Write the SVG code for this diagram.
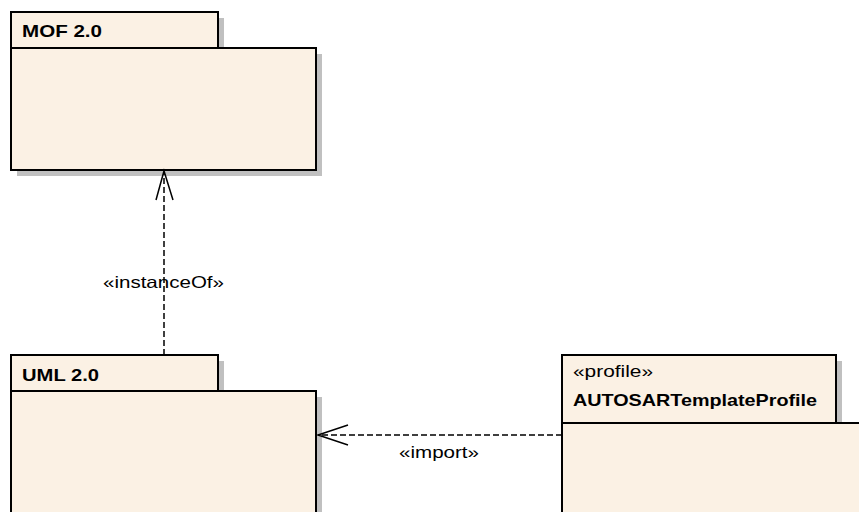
<svg xmlns="http://www.w3.org/2000/svg" width="859" height="512" viewBox="0 0 859 512">
<style>
.sh{fill:#c0c0c0;stroke:none}
.pk{fill:#fbf1e4;stroke:#000;stroke-width:2}
.t{font-family:"Liberation Sans",Arial,sans-serif;font-size:16.5px;fill:#000}
.b{font-weight:bold}
.dash{fill:none;stroke:#000;stroke-width:1.5;stroke-dasharray:6,3}
.head{fill:none;stroke:#000;stroke-width:1.5}
</style>
<rect width="859" height="512" fill="#fff"/>
<g id="mof">
<rect class="sh" x="17" y="18" width="207" height="36"/>
<rect class="sh" x="17" y="54" width="305" height="122"/>
<rect class="pk" x="11" y="12" width="207" height="36"/>
<rect class="pk" x="11" y="48" width="305" height="122"/>
<text class="t b" x="22" y="37" textLength="80" lengthAdjust="spacingAndGlyphs">MOF 2.0</text>
</g>
<g id="uml">
<rect class="sh" x="17" y="361" width="207" height="36"/>
<rect class="sh" x="17" y="397" width="305" height="130"/>
<rect class="pk" x="11" y="355" width="207" height="36"/>
<rect class="pk" x="11" y="391" width="305" height="130"/>
<text class="t b" x="22" y="380.5" textLength="77" lengthAdjust="spacingAndGlyphs">UML 2.0</text>
</g>
<g id="profile">
<rect class="sh" x="568" y="361" width="274" height="68"/>
<rect class="pk" x="562" y="355" width="274" height="68"/>
<rect class="pk" x="562" y="423" width="310" height="100"/>
<text class="t" x="573" y="377" textLength="80" lengthAdjust="spacingAndGlyphs">«profile»</text>
<text class="t b" x="573" y="405.5" textLength="244" lengthAdjust="spacingAndGlyphs">AUTOSARTemplateProfile</text>
</g>
<g id="connectors">
<line class="dash" x1="164" y1="355" x2="164" y2="172"/>
<polyline class="head" points="156,200 164,171 173,200"/>
<text class="t" x="103" y="288" textLength="121" lengthAdjust="spacingAndGlyphs">«instanceOf»</text>
<line class="dash" x1="562" y1="435" x2="318" y2="435"/>
<polyline class="head" points="348,425 318,435 348,445"/>
<text class="t" x="399" y="458" textLength="80" lengthAdjust="spacingAndGlyphs">«import»</text>
</g>
</svg>
